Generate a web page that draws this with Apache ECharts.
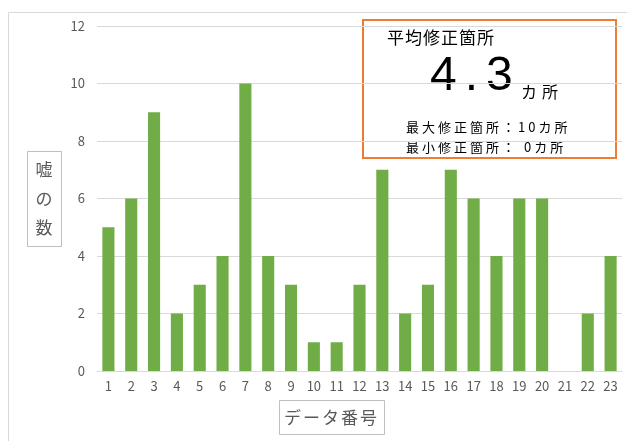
<!DOCTYPE html>
<html>
<head>
<meta charset="utf-8">
<script src="https://cdn.jsdelivr.net/npm/echarts@6/dist/echarts.min.js"></script>
<style>
  html, body { margin: 0; padding: 0; background: #fff; }
  #chart { width: 627px; height: 441px; }
</style>
</head>
<body>
<div id="chart"></div>
<script>
const categories = ['1','2','3','4','5','6','7','8','9','10','11','12','13','14','15','16','17','18','19','20','21','22','23']
const lies = [5, 6, 9, 2, 3, 4, 10, 4, 3, 1, 1, 3, 7, 2, 3, 7, 6, 4, 6, 6, 0, 2, 4]
const yTicks = { min: 0, max: 12, interval: 2 }

const font = '"Noto Sans CJK JP", "Noto Sans", sans-serif'
const avg = (lies.reduce((a, b) => a + b, 0) / lies.length).toFixed(1)
const maxV = Math.max(...lies)
const minV = Math.min(...lies)

// text with a little letter spacing, done through rich tokens
function spaced(str, size, gap, color, family) {
  return {
    text: str.split('').map(ch => '{c|' + ch + '}').join(''),
    rich: { c: { fontSize: size, fontFamily: family || font, fill: color, padding: [0, gap, 0, 0] } },
    verticalAlign: 'middle'
  }
}

const chart = echarts.init(document.getElementById('chart'))

chart.setOption({
  animation: false,
  grid: { left: 97, right: 5, top: 26, bottom: 70 },
  xAxis: {
    type: 'category',
    data: categories,
    axisTick: { show: false },
    axisLine: { lineStyle: { color: '#d9d9d9', width: 1 } },
    axisLabel: { color: '#595959', fontSize: 13, fontFamily: font, margin: 9, interval: 0 }
  },
  yAxis: {
    type: 'value',
    min: yTicks.min,
    max: yTicks.max,
    interval: yTicks.interval,
    axisLine: { show: false },
    axisTick: { show: false },
    axisLabel: { color: '#595959', fontSize: 13, fontFamily: font, margin: 12 },
    splitLine: { lineStyle: { color: '#d9d9d9', width: 1 } }
  },
  series: [{
    type: 'bar',
    data: lies,
    barWidth: '53%',
    itemStyle: { color: '#70ad47' }
  }],
  graphic: [
    // outer chart border
    {
      type: 'rect',
      shape: { x: 8.5, y: 12.5, width: 640, height: 440 },
      style: { fill: null, stroke: '#d9d9d9', lineWidth: 1 },
      silent: true
    },
    // y axis title
    {
      type: 'rect',
      shape: { x: 27.5, y: 151.5, width: 34, height: 95 },
      style: { fill: '#fff', stroke: '#bfbfbf', lineWidth: 1 }
    },
    {
      type: 'text',
      x: 44, y: 199,
      style: {
        text: '嘘\nの\n数', fill: '#595959', fontSize: 17, fontFamily: font,
        lineHeight: 29, align: 'center', verticalAlign: 'middle'
      }
    },
    // x axis title
    {
      type: 'rect',
      shape: { x: 279.5, y: 400.5, width: 105, height: 34 },
      style: { fill: '#fff', stroke: '#bfbfbf', lineWidth: 1 }
    },
    {
      type: 'text',
      x: 284, y: 418,
      style: spaced('データ番号', 17, 2, '#595959')
    },
    // summary box
    {
      type: 'rect',
      shape: { x: 363, y: 20, width: 253, height: 138 },
      style: { fill: '#fff', stroke: '#ed7d31', lineWidth: 2 }
    },
    {
      type: 'text',
      x: 387, y: 38,
      style: spaced('平均修正箇所', 17, 1, '#000')
    },
    {
      type: 'text',
      x: 430, y: 77,
      style: spaced(avg, 48, 8, '#000', '"Liberation Sans", Arial, sans-serif')
    },
    {
      type: 'text',
      x: 521, y: 92,
      style: spaced('カ所', 16, 5, '#000')
    },
    {
      type: 'text',
      x: 406, y: 127,
      style: spaced('最大修正箇所：' + maxV + 'カ所', 13, 3, '#000')
    },
    {
      type: 'text',
      x: 406, y: 147,
      style: spaced('最小修正箇所： ' + minV + 'カ所', 13, 3, '#000')
    }
  ]
})
</script>
</body>
</html>
